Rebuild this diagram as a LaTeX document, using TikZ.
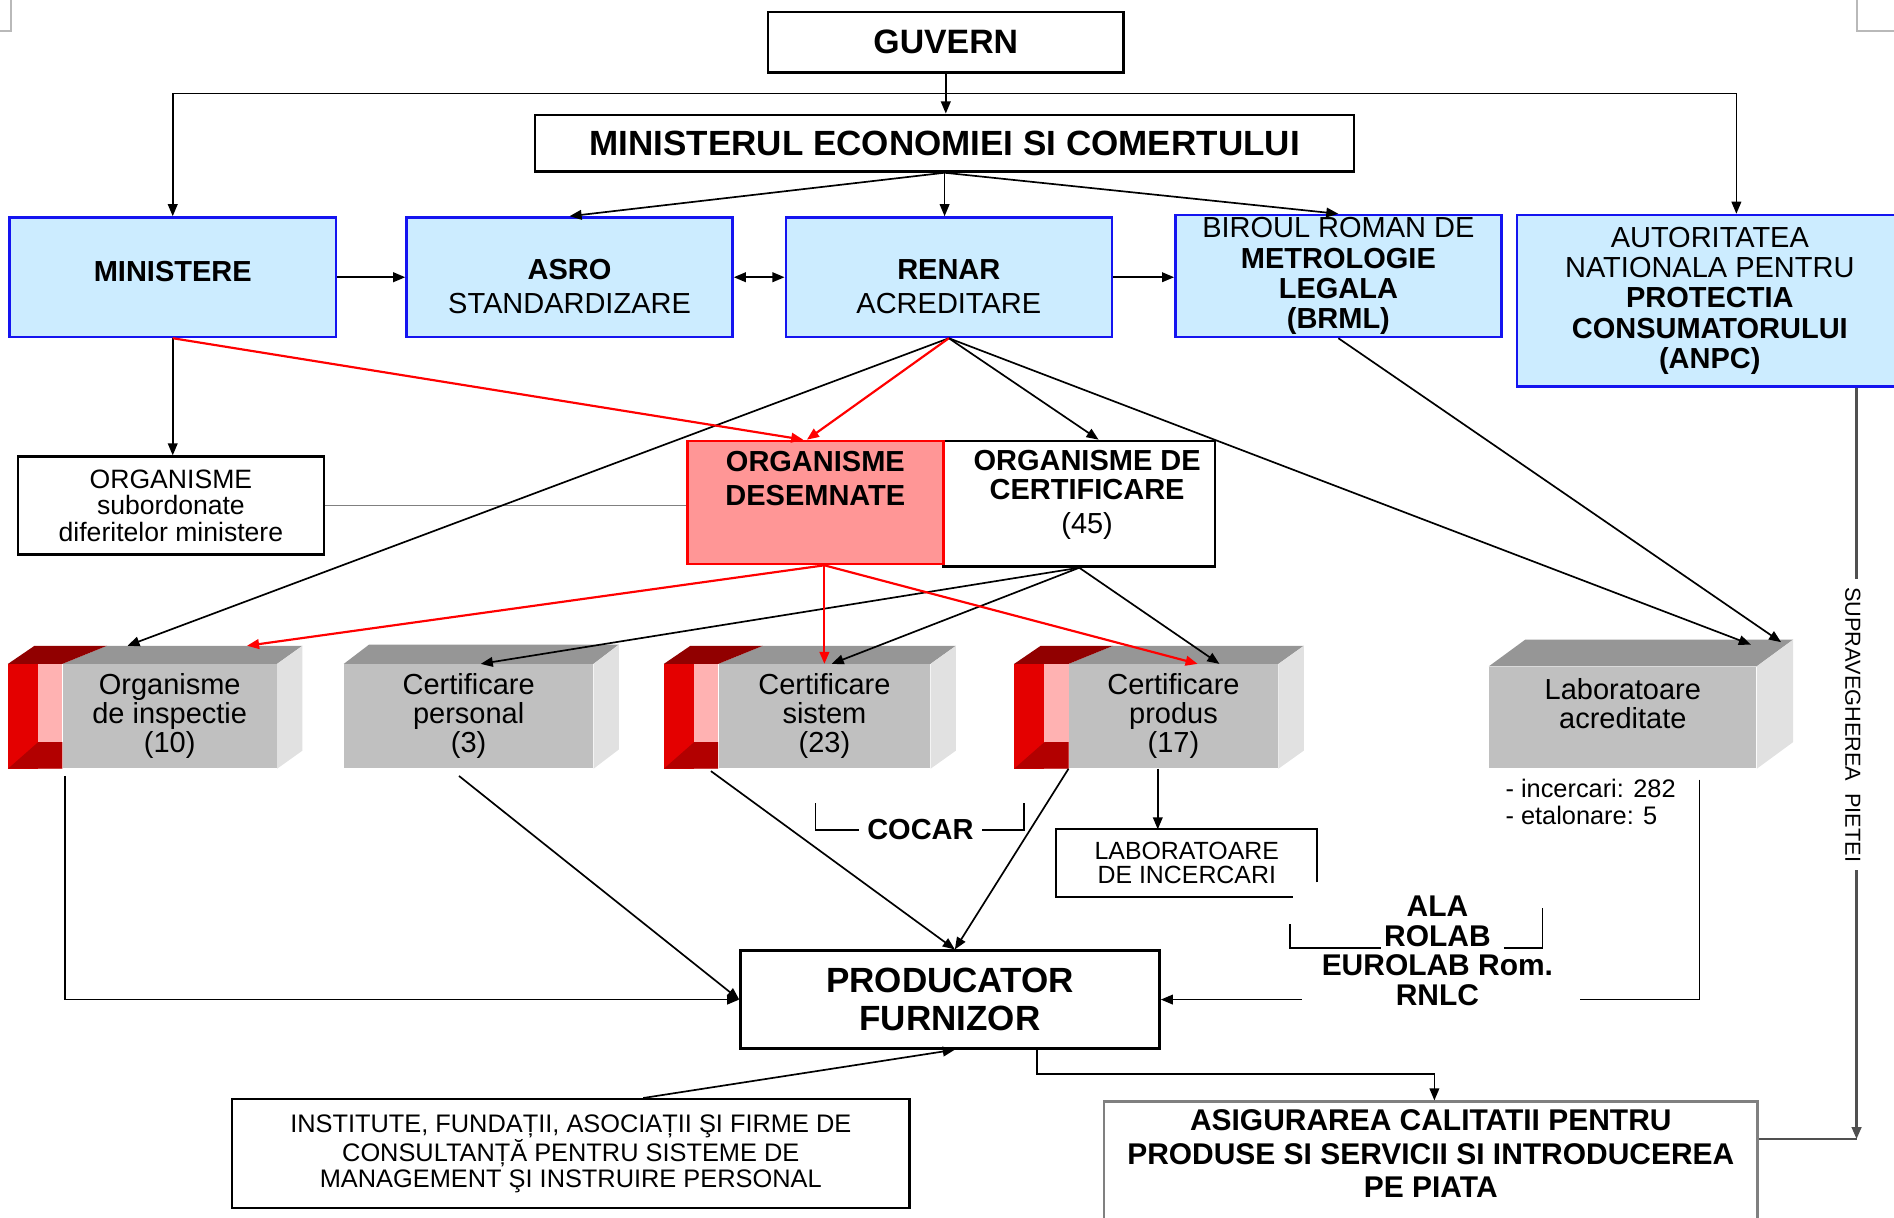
\documentclass[tikz,border=0pt]{standalone}
\usepackage{fontspec}
\setmainfont{Liberation Sans}
\usetikzlibrary{arrows.meta,positioning,calc}

\definecolor{skyfill}{RGB}{204,236,255}
\definecolor{boxblue}{RGB}{20,20,240}
\definecolor{desfill}{RGB}{255,150,150}
\definecolor{frontgray}{RGB}{192,192,192}
\definecolor{topgray}{RGB}{150,150,150}
\definecolor{sidegray}{RGB}{225,225,225}
\definecolor{redbright}{RGB}{228,0,0}
\definecolor{redpink}{RGB}{255,178,178}
\definecolor{reddark}{RGB}{178,0,0}
\definecolor{redtop}{RGB}{145,0,0}
\definecolor{cornergray}{RGB}{185,185,185}
\definecolor{suprgray}{RGB}{80,80,80}

\newcommand{\setfs}[2]{\fontsize{#1}{#2}\selectfont}

% top and right faces of a gray block
\newcommand{\cubeface}[4]{%
  \fill[topgray] (#1.north west) -- ++(#4,-#3) -- ([shift={(#2,-#3)}]#1.north east) -- (#1.north east) -- cycle;
  \fill[sidegray] (#1.north east) -- ++(#2,-#3) -- ([shift={(#2,-#3)}]#1.south east) -- (#1.south east) -- cycle;
}
% red end of a block
\newcommand{\redcap}[1]{%
  \fill[redbright] ([xshift=-22.5pt]#1.north west) rectangle ([xshift=-10pt]#1.south west);
  \fill[redpink] ([xshift=-10pt]#1.north west) rectangle (#1.south west);
  \fill[reddark] ([xshift=-22.5pt]#1.south west) -- ++(25,-22) -- ([yshift=11pt]#1.south west) -- (#1.south west) -- cycle;
  \fill[redtop] ([xshift=-22.5pt]#1.north west) -- ++(22,-15) -- ([shift={(37,-15)}]#1.north west) -- (#1.north west) -- cycle;
}

\tikzset{
  arr/.style={-{Triangle[length=5pt,width=4pt]}, line width=0.7pt},
  dblarr/.style={{Triangle[length=5pt,width=4pt]}-{Triangle[length=5pt,width=4pt]}, line width=0.7pt},
  redarr/.style={arr, draw=red, line width=0.9pt},
  bluebox/.style={draw=boxblue, fill=skyfill, line width=1pt, align=center, inner sep=2pt,
    minimum width=135pt, minimum height=49.5pt, font=\setfs{12}{14}},
  plainbox/.style={draw=black, line width=1pt, align=center},
  frontface/.style={fill=frontgray, align=center, inner sep=0pt, minimum height=43pt, font=\setfs{12}{12}},
  bracket/.style={line width=0.7pt},
}

\begin{document}
\begin{tikzpicture}[x=0.5pt,y=-0.5pt]
\useasboundingbox (0,0) rectangle (1568,1008);

% page corners
\draw[cornergray, line width=0.8pt] (0,26) -- (9,26) -- (9,0);
\draw[cornergray, line width=0.8pt] (1568,26) -- (1537,26) -- (1537,0);

% top level
\node[plainbox, minimum width=147pt, minimum height=25pt, font=\setfs{14}{16}\bfseries] (guv) at (783,35) {GUVERN};
\node[plainbox, minimum width=339pt, minimum height=23.5pt, font=\setfs{14.5}{16}\bfseries] (mec) at (782,118.5) {MINISTERUL ECONOMIEI SI COMERTULUI};

% blue row
\node[bluebox] (min) at (143,229.5) {\rule[-5pt]{0pt}{0pt}\textbf{MINISTERE}};
\node[bluebox] (asro) at (471.5,229.5) {\rule{0pt}{16pt}\textbf{ASRO}\\STANDARDIZARE};
\node[bluebox] (renar) at (785.5,229.5) {\rule{0pt}{16pt}\textbf{RENAR}\\ACREDITARE};
\node[bluebox, inner ysep=0pt, minimum height=50.5pt, font=\setfs{12}{12.5}] (brml) at (1108,228.5) {BIROUL ROMAN DE\\\textbf{METROLOGIE}\\\textbf{LEGALA}\\\textbf{(BRML)}};
\node[bluebox, minimum width=159.5pt, minimum height=71pt, font=\setfs{12}{12.5}] (anpc) at (1415.5,249) {AUTORITATEA\\NATIONALA PENTRU\\\textbf{PROTECTIA}\\\textbf{CONSUMATORULUI}\\\textbf{(ANPC)}};

% middle row
\node[plainbox, minimum width=126.5pt, minimum height=40.5pt, font=\setfs{11}{11}] (sub) at (141.5,418.5) {ORGANISME\\subordonate\\diferitelor ministere};
\node[plainbox, minimum width=112.5pt, minimum height=52pt] (cert) at (893.5,417) {};
\node[draw=red, fill=desfill, line width=1pt, minimum width=106pt, minimum height=51pt] (des) at (675,416) {};
\node[font=\setfs{12}{14}\bfseries, align=center] (destxt) at (675,396) {ORGANISME\\DESEMNATE};
\node[font=\setfs{12}{12}\bfseries, align=center] (certtxt) at (900,410) {ORGANISME DE\\CERTIFICARE\\[2pt]\mdseries (45)};

% gray blocks
\node[frontface, minimum width=88.5pt] (insp) at (140.5,593) {Organisme\\de inspectie\\(10)};
\node[frontface, minimum width=103pt] (pers) at (388,593) {Certificare\\personal\\(3)};
\node[frontface, minimum width=87.5pt] (sist) at (682.5,593) {Certificare\\sistem\\(23)};
\node[frontface, minimum width=86.5pt] (prodc) at (971.5,593) {Certificare\\produs\\(17)};
\node[frontface, minimum width=110.5pt, minimum height=42pt] (lab) at (1343.5,594) {Laboratoare\\acreditate\\\mbox{}};

\cubeface{insp}{21}{15}{37}
\cubeface{pers}{21}{16}{21}
\cubeface{sist}{21}{15}{37}
\cubeface{prodc}{21}{15}{37}
\cubeface{lab}{30}{22}{30}
\redcap{insp}
\redcap{sist}
\redcap{prodc}

% lower part
\node[font=\setfs{12}{12}\bfseries] (cocar) at (762,687) {COCAR};
\node[font=\setfs{10.3}{10}, minimum width=107.5pt, minimum height=27.5pt, align=center, inner sep=0pt] (labinc) at (982.5,714.5) {LABORATOARE\\DE INCERCARI};
\node[anchor=north west, font=\setfs{10.5}{11}, align=left, inner sep=0pt] (labnum) at (1246,645) {- incercari: 282\\- etalonare: 5};
\node[font=\setfs{12.4}{12.2}\bfseries, align=center, inner sep=3pt] (ala) at (1190,787) {ALA\\ROLAB\\EUROLAB Rom.\\RNLC};
\node[plainbox, minimum width=173.5pt, minimum height=40.5pt, font=\setfs{14.5}{16}\bfseries] (prod) at (786.5,827.5) {PRODUCATOR\\FURNIZOR};
\node[plainbox, minimum width=280.5pt, minimum height=45pt, font=\setfs{10.5}{10.5}] (inst) at (472.5,955) {INSTITUTE, FUNDAȚII, ASOCIAȚII ŞI FIRME DE\\CONSULTANȚĂ PENTRU SISTEME DE\\MANAGEMENT ŞI INSTRUIRE PERSONAL};
\node[draw=gray, line width=1pt, minimum width=270.5pt, minimum height=51pt] (asig) at (1184.5,963) {};
\node[font=\setfs{12.4}{13.75}\bfseries, align=center] (asigtxt) at (1184.5,955) {ASIGURAREA CALITATII PENTRU\\PRODUSE SI SERVICII SI INTRODUCEREA\\PE PIATA};
\node[rotate=-90, font=\setfs{9}{10}, inner sep=3pt] (supr) at (1534,600) {SUPRAVEGHEREA\ \ PIETEI};

% connectors from the top
\coordinate (split) at ($(guv.south)!0.5!(mec.north)$);
\draw[arr] (guv.south) -- (guv.south |- mec.north);
\draw[arr] (split) -| (min.north);
\draw[arr] (split) -| ([xshift=11pt]anpc.north);
\draw[arr] (mec.south) -- (asro.north);
\draw[arr] (mec.south) -- (mec.south |- renar.north);
\draw[arr] (mec.south) -- (brml.north);
\draw[arr] (min) -- (asro);
\draw[dblarr] (asro) -- (renar);
\draw[arr] (renar.east) -- (renar.east -| brml.west);
\draw[arr] (min.south) -- (min.south |- sub.north);
\draw[line width=0.6pt, gray] (sub.east) -- (sub.east -| des.west);

% RENAR and BRML
\draw[arr] (renar.south) -- ([shift={(-35,-15)}]insp.north);
\draw[arr] (renar.south) -- ([xshift=8pt]cert.north);
\draw[arr] (renar.south) -- ([shift={(106,-18)}]lab.north);
\draw[arr] (brml.south) -- ([shift={(131,-20)}]lab.north);

% certification bodies
\draw[arr] (cert.south) -- ([xshift=5pt]pers.north);
\draw[arr] (cert.south) -- ([xshift=3pt]sist.north);
\draw[arr] (cert.south) -- ([xshift=19pt]prodc.north);

% designated bodies (red)
\draw[redarr] (min.south) -- ([xshift=-5pt]des.north);
\draw[redarr] (renar.south) -- ([xshift=-3.5pt]des.north);
\coordinate (dsrc) at (des.south -| sist.north);
\draw[redarr] (dsrc) -- ([shift={(64,-15)}]insp.north);
\draw[redarr] (dsrc) -- (sist.north);
\draw[redarr] (dsrc) -- ([xshift=10pt]prodc.north);

% towards the producer
\draw[arr] ([shift={(2,6)}]insp.south west) |- (prod.west);
\draw[arr] ([shift={(-8,6)}]pers.south) -- (prod.west);
\draw[arr] ([shift={(-6,2)}]sist.south west) -- ([xshift=2pt]prod.north);
\draw[arr] (prodc.south west) -- ([xshift=2pt]prod.north);
\draw[arr] ([xshift=-6.5pt]prodc.south) -- ([xshift=-6.5pt]prodc.south |- labinc.north);
\draw[arr] ([xshift=30pt]inst.north) -- ([xshift=2pt]prod.south);
\draw[arr] ([xshift=36pt]prod.south) -- ++(0,20) -| ([xshift=1.5pt]asig.north);

% labs
\draw[line width=0.8pt] ([yshift=6pt]labinc.south east) -- (labinc.north east) -- (labinc.north west) -- (labinc.south west) -- ([xshift=-10pt]labinc.south east);
\coordinate (alaL) at ([xshift=-5pt]ala.west);
\coordinate (alaR) at ([xshift=8pt]ala.east);
\coordinate (labR) at ([shift={(63.5,9)}]lab.south);
\draw[arr] (alaL |- prod.east) -- (prod.east);
\draw[line width=0.7pt] (labR) |- (alaR |- prod.east);
\draw[bracket] (1068,765) |- (1143,785);
\draw[bracket] (1245,785) -| (1277,752);
\draw[bracket] (675,665) |- (cocar.west);
\draw[bracket] (cocar.east) -| (848,665);

% market surveillance
\coordinate (sx) at (1537,0);
\coordinate (asigR) at ([yshift=10pt]asig.east);
\draw[suprgray, line width=1pt] (anpc.south -| sx) -- (sx |- supr.west);
\draw[suprgray, line width=1pt, -{Triangle[length=5pt,width=4pt]}] (sx |- supr.east) -- (sx |- asigR);
\draw[suprgray, line width=1pt] (asigR) -- (sx |- asigR);

\end{tikzpicture}
\end{document}
